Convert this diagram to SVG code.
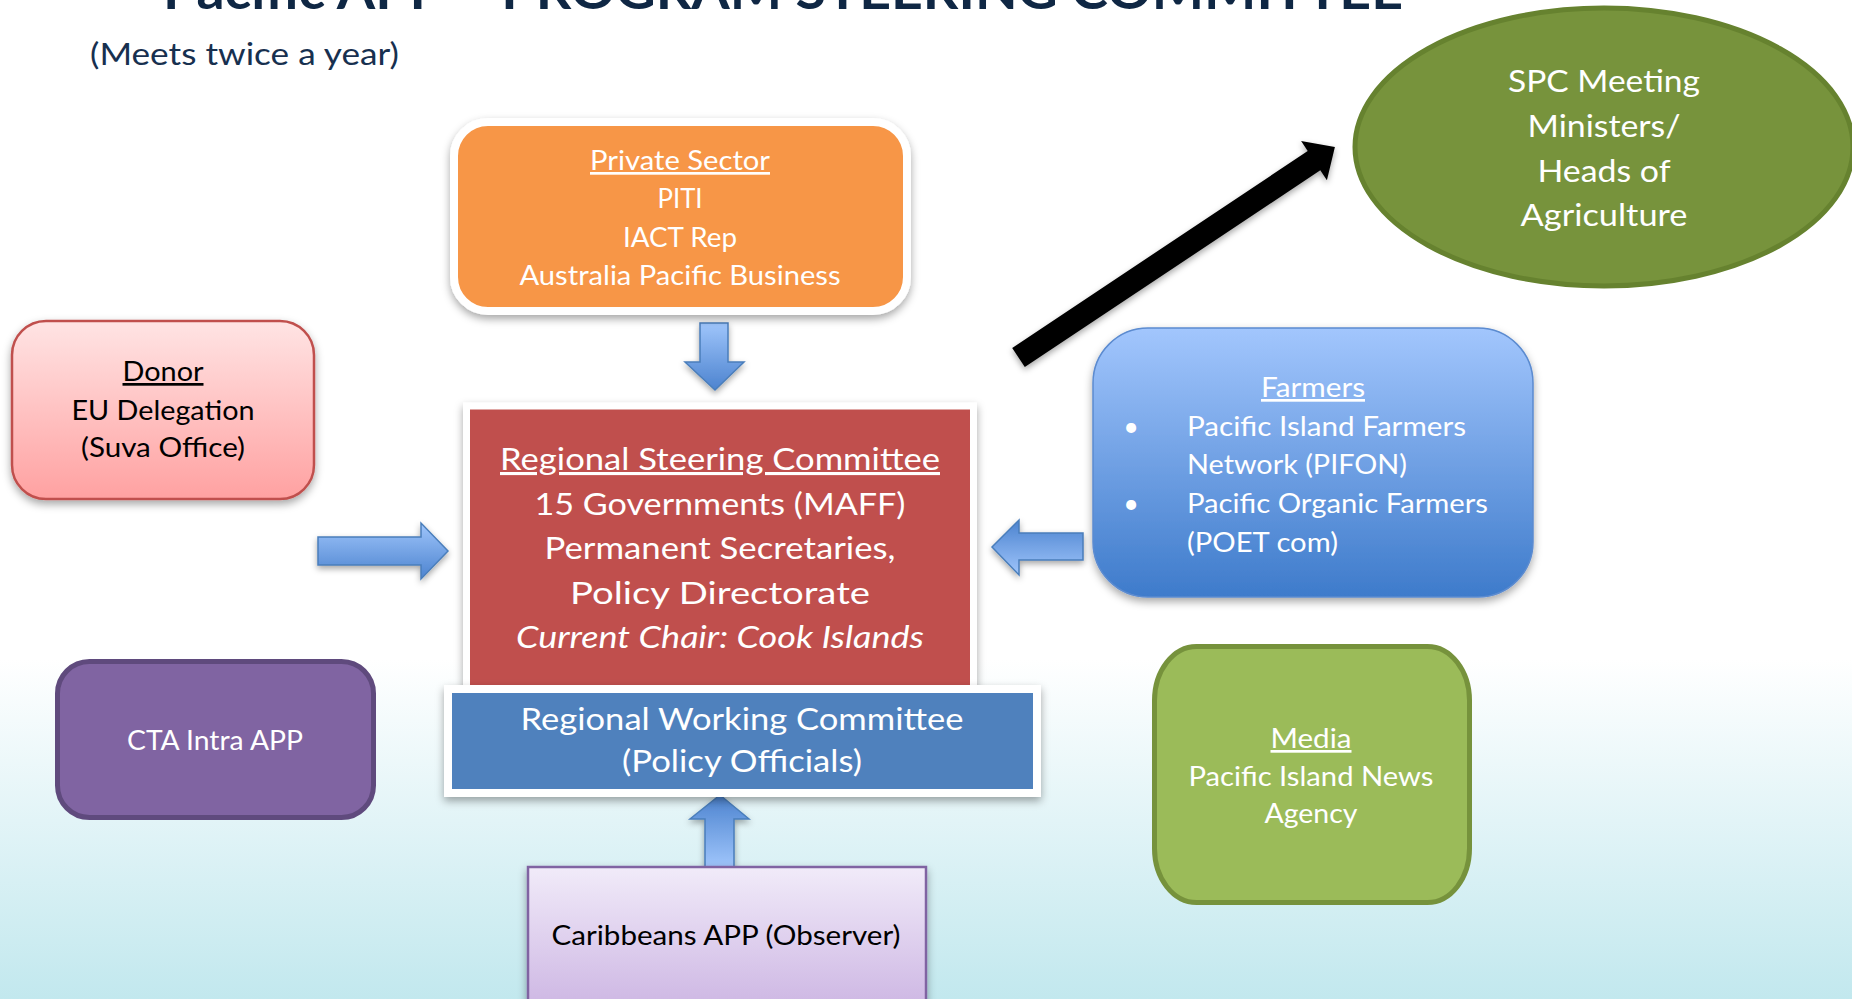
<svg xmlns="http://www.w3.org/2000/svg" width="1852" height="999" viewBox="0 0 1852 999">
<defs>
<linearGradient id="bg" x1="0" y1="0" x2="0" y2="1">
<stop offset="0" stop-color="#ffffff"/>
<stop offset="0.66" stop-color="#ffffff"/>
<stop offset="1" stop-color="#c2e8ee"/>
</linearGradient>
<linearGradient id="gDonor" x1="0" y1="0" x2="0" y2="1">
<stop offset="0" stop-color="#ffe4e4"/>
<stop offset="1" stop-color="#ffa1a1"/>
</linearGradient>
<linearGradient id="gFarm" x1="0" y1="0" x2="0" y2="1">
<stop offset="0" stop-color="#a2c6fd"/>
<stop offset="1" stop-color="#3e7bcb"/>
</linearGradient>
<linearGradient id="gCarib" x1="0" y1="0" x2="0" y2="1">
<stop offset="0" stop-color="#f1ebf9"/>
<stop offset="1" stop-color="#cbb3e2"/>
</linearGradient>
<linearGradient id="gLightTop" x1="0" y1="0" x2="0" y2="1">
<stop offset="0" stop-color="#9fc5fb"/>
<stop offset="1" stop-color="#4c83cf"/>
</linearGradient>
<linearGradient id="gDarkTop" x1="0" y1="0" x2="0" y2="1">
<stop offset="0" stop-color="#4c83cf"/>
<stop offset="1" stop-color="#9fc5fb"/>
</linearGradient>
<filter id="sh" x="-10%" y="-10%" width="120%" height="130%">
<feDropShadow dx="0" dy="4" stdDeviation="4" flood-color="#000" flood-opacity="0.35"/>
</filter>
<filter id="shs" x="-20%" y="-20%" width="140%" height="160%">
<feDropShadow dx="0" dy="3" stdDeviation="3" flood-color="#000" flood-opacity="0.35"/>
</filter>
<style>
text{font-family:Lato,"Open Sans","Liberation Sans",sans-serif;}
.w{fill:#ffffff;}
.k{fill:#000000;}
.m{text-anchor:middle;}
.s27{font-size:27px;}
.s30{font-size:30px;}
.s31{font-size:31px;}
.u{text-decoration:underline;}
.blk{stroke:#4a7ebb;stroke-width:1.5;filter:url(#shs);}
</style>
</defs>
<rect x="0" y="0" width="1852" height="999" fill="url(#bg)"/>

<text x="163" y="9" font-size="52" font-weight="bold" fill="#0f2744" textLength="1240" lengthAdjust="spacingAndGlyphs">Pacific APP – PROGRAM STEERING COMMITTEE</text>
<text x="90" y="65" font-size="30" fill="#17304f" textLength="309" lengthAdjust="spacingAndGlyphs">(Meets twice a year)</text>

<g id="connectors">
<path class="blk" d="M700,323 H728 V362 H744 L715,390 L685,362 H700 Z" fill="url(#gLightTop)"/>
<path class="blk" d="M318,537 H421 V523 L448,551 L421,579 V565 H318 Z" fill="url(#gLightTop)"/>
<path class="blk" d="M1083,533 H1019 V520 L992,547 L1019,575 V560 H1083 Z" fill="url(#gDarkTop)"/>
<path class="blk" d="M720,795 L749,819 H734 V867 H705 V819 H690 Z" fill="url(#gDarkTop)"/>
<polygon points="1012.2,347.9 1307.7,151.1 1301.1,141.1 1334.9,146.9 1326.9,180.3 1320.3,170.3 1024.8,367.1" fill="#000000" filter="url(#shs)"/>
</g>

<g id="private-sector">
<rect x="454" y="122" width="453" height="189" rx="34" fill="#f79646" stroke="#ffffff" stroke-width="8" filter="url(#sh)"/>
<text class="w m s27 u" x="680" y="170" textLength="180" lengthAdjust="spacingAndGlyphs">Private Sector</text>
<text class="w m s27" x="680" y="208" textLength="45" lengthAdjust="spacingAndGlyphs">PITI</text>
<text class="w m s27" x="680" y="247" textLength="114" lengthAdjust="spacingAndGlyphs">IACT Rep</text>
<text class="w m s27" x="680" y="285" textLength="321" lengthAdjust="spacingAndGlyphs">Australia Pacific Business</text>
</g>

<g id="steering-committee">
<rect x="466.5" y="406" width="507" height="290" fill="#c0504d" stroke="#ffffff" stroke-width="7" filter="url(#sh)"/>
<text class="w m s31 u" x="720" y="470" textLength="440" lengthAdjust="spacingAndGlyphs">Regional Steering Committee</text>
<text class="w m s31" x="720" y="515" textLength="371" lengthAdjust="spacingAndGlyphs">15 Governments (MAFF)</text>
<text class="w m s31" x="720" y="559" textLength="351" lengthAdjust="spacingAndGlyphs">Permanent Secretaries,</text>
<text class="w m s31" x="720" y="604" textLength="300" lengthAdjust="spacingAndGlyphs">Policy Directorate</text>
<text class="w m s31" x="720" y="648" font-style="italic" textLength="408" lengthAdjust="spacingAndGlyphs">Current Chair: Cook Islands</text>
</g>

<g id="working-committee">
<rect x="448" y="689" width="589" height="104" fill="#4f81bd" stroke="#ffffff" stroke-width="8" filter="url(#sh)"/>
<text class="w m s31" x="742" y="730" textLength="443" lengthAdjust="spacingAndGlyphs">Regional Working Committee</text>
<text class="w m s31" x="742" y="772" textLength="240" lengthAdjust="spacingAndGlyphs">(Policy Officials)</text>
</g>

<g id="donor">
<rect x="12" y="321" width="302" height="178" rx="34" fill="url(#gDonor)" stroke="#c0504d" stroke-width="2.5" filter="url(#sh)"/>
<text class="k m s27 u" x="163" y="381" textLength="81" lengthAdjust="spacingAndGlyphs">Donor</text>
<text class="k m s27" x="163" y="420" textLength="183" lengthAdjust="spacingAndGlyphs">EU Delegation</text>
<text class="k m s27" x="163" y="457" textLength="164" lengthAdjust="spacingAndGlyphs">(Suva Office)</text>
</g>

<g id="farmers">
<rect x="1093" y="328" width="440" height="269" rx="55" fill="url(#gFarm)" stroke="#5b8bd0" stroke-width="1.5" filter="url(#sh)"/>
<text class="w m s27 u" x="1313" y="397" textLength="104" lengthAdjust="spacingAndGlyphs">Farmers</text>
<text class="w m s27" x="1131" y="436">•</text>
<text class="w s27" x="1187" y="436" textLength="279" lengthAdjust="spacingAndGlyphs">Pacific Island Farmers</text>
<text class="w s27" x="1187" y="474" textLength="220" lengthAdjust="spacingAndGlyphs">Network (PIFON)</text>
<text class="w m s27" x="1131" y="513">•</text>
<text class="w s27" x="1187" y="513" textLength="301" lengthAdjust="spacingAndGlyphs">Pacific Organic Farmers</text>
<text class="w s27" x="1187" y="552" textLength="151" lengthAdjust="spacingAndGlyphs">(POET com)</text>
</g>

<g id="spc-meeting">
<ellipse cx="1604" cy="147" rx="249" ry="139" fill="#77933c" stroke="#66822f" stroke-width="5"/>
<text class="w m s30" x="1604" y="92" textLength="192" lengthAdjust="spacingAndGlyphs">SPC Meeting</text>
<text class="w m s30" x="1604" y="137" textLength="153" lengthAdjust="spacingAndGlyphs">Ministers/</text>
<text class="w m s30" x="1604" y="182" textLength="133" lengthAdjust="spacingAndGlyphs">Heads of</text>
<text class="w m s30" x="1604" y="226" textLength="167" lengthAdjust="spacingAndGlyphs">Agriculture</text>
</g>

<g id="cta">
<rect x="57.5" y="661.5" width="316" height="156" rx="32" fill="#8064a2" stroke="#5f4a7d" stroke-width="5"/>
<text class="w m s27" x="215" y="750" textLength="176" lengthAdjust="spacingAndGlyphs">CTA Intra APP</text>
</g>

<g id="caribbeans">
<rect x="528" y="867" width="398" height="150" fill="url(#gCarib)" stroke="#8064a2" stroke-width="2.5" filter="url(#sh)"/>
<text class="k m s27" x="726" y="945" textLength="349" lengthAdjust="spacingAndGlyphs">Caribbeans APP (Observer)</text>
</g>

<g id="media">
<rect x="1154.5" y="646.5" width="315" height="256" rx="42" ry="54" fill="#9bbb59" stroke="#76923c" stroke-width="5"/>
<text class="w m s27 u" x="1311" y="748" textLength="81" lengthAdjust="spacingAndGlyphs">Media</text>
<text class="w m s27" x="1311" y="786" textLength="245" lengthAdjust="spacingAndGlyphs">Pacific Island News</text>
<text class="w m s27" x="1311" y="823" textLength="93" lengthAdjust="spacingAndGlyphs">Agency</text>
</g>
</svg>
